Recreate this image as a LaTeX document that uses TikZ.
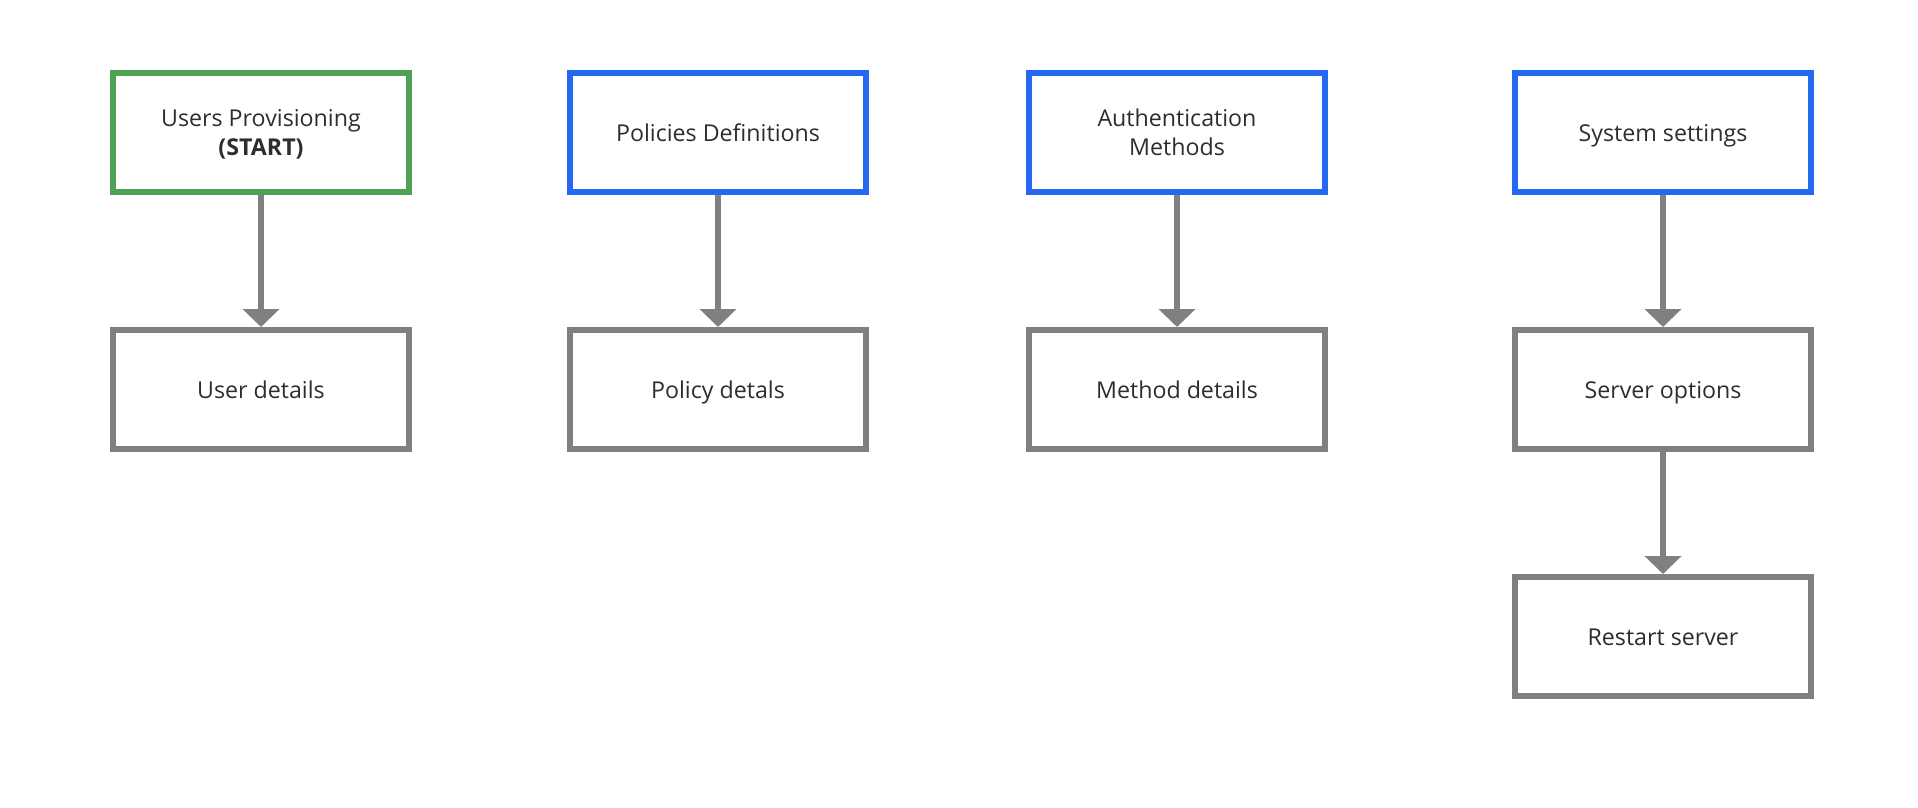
\documentclass[tikz,border=0pt]{standalone}
\usepackage{fontspec}
\setmainfont{Open Sans}
\usetikzlibrary{arrows.meta}
\definecolor{startgreen}{RGB}{80,160,85}
\definecolor{stepblue}{RGB}{36,104,242}
\definecolor{linegray}{RGB}{128,128,128}
\definecolor{textgray}{RGB}{45,45,45}
\tikzset{
	box/.style={draw=linegray, line width=3pt, minimum width=148pt,
		minimum height=59.5pt, align=center, text=textgray,
		font=\fontsize{11.6}{14.5}\selectfont},
	oneline/.style={text height=1em, text depth=0.08em},
	twoline/.style={text depth=-1.6pt},
	startbox/.style={box, draw=startgreen},
	topbox/.style={box, draw=stepblue},
	flow/.style={draw=linegray, line width=2.6pt,
		-{Triangle[width=18pt,length=9pt]}}
}
\begin{document}
\begin{tikzpicture}[x=0.5pt,y=-0.5pt]
		\useasboundingbox (0,0) rectangle (1918,808);
		% top row
		\node[startbox,twoline] (users) at (261,132.5) {Users Provisioning\\\textbf{(START)}};
		\node[topbox,oneline] (policies) at (718,132.5) {Policies Definitions};
		\node[topbox,twoline] (auth) at (1177,132.5) {Authentication\\Methods};
		\node[topbox,oneline] (system) at (1663,132.5) {System settings};
		% details
		\node[box,oneline] (userdet) at (261,389.5) {User details};
		\node[box,oneline] (policydet) at (718,389.5) {Policy detals};
		\node[box,oneline] (methoddet) at (1177,389.5) {Method details};
		\node[box,oneline] (server) at (1663,389.5) {Server options};
		\node[box,oneline] (restart) at (1663,636.5) {Restart server};
		% arrows
		\draw[flow] (users) -- (userdet);
		\draw[flow] (policies) -- (policydet);
		\draw[flow] (auth) -- (methoddet);
		\draw[flow] (system) -- (server);
		\draw[flow] (server) -- (restart);
	\end{tikzpicture}
\end{document}
